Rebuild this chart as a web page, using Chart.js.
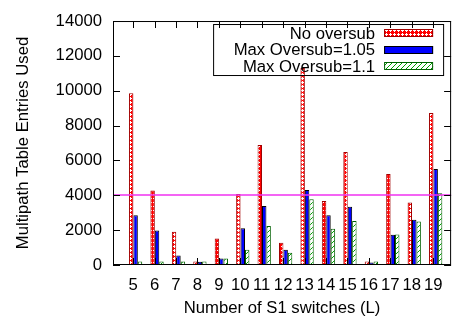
<!DOCTYPE html>
<html>
<head>
<meta charset="utf-8">
<script src="https://cdn.jsdelivr.net/npm/chart.js@4.4.0/dist/chart.umd.min.js"></script>
<style>
  html, body { margin: 0; padding: 0; background: #fff; }
  #wrap { width: 455px; height: 320px; }
</style>
</head>
<body>
<div id="wrap"><canvas id="tableChart" width="455" height="320"></canvas></div>
<script>
// values
const switches = [5, 6, 7, 8, 9, 10, 11, 12, 13, 14, 15, 16, 17, 18, 19];
const noOversub = [9850, 4280, 1910, 200, 1525, 4080, 6890, 1270, 11300, 3670, 6490, 200, 5220, 3580, 8720];
const oversub105 = [2860, 1980, 550, 180, 370, 2110, 3380, 880, 4310, 2850, 3340, 150, 1730, 2590, 5510];
const oversub11 = [200, 200, 200, 200, 370, 880, 2240, 700, 3780, 2075, 2530, 200, 1750, 2500, 4120];
const yTicks = [0, 2000, 4000, 6000, 8000, 10000, 12000, 14000];
const tableLimit = 4000;

const FONT = "'Liberation Sans', Arial, Helvetica, sans-serif";
const FSIZE = 16.7;
const xTickShift = -2.5;   // gnuplot puts the clusters a bit right of the tick

Chart.defaults.font.family = FONT;
Chart.defaults.font.size = FSIZE;
Chart.defaults.color = '#000';

// ---- fill patterns (gnuplot style) ----
function makePattern(size, bg, fg, pixels) {
    const c = document.createElement('canvas');
    c.width = size; c.height = size;
    const g = c.getContext('2d');
    g.fillStyle = bg;
    g.fillRect(0, 0, size, size);
    g.fillStyle = fg;
    pixels.forEach(([px, py]) => g.fillRect(px, py, 1, 1));
    return g.createPattern(c, 'repeat');
}
// red lattice with small white diamonds
const crossPattern = makePattern(4, '#ff0000', '#ffffff', [[2,1],[1,2],[2,2],[3,2],[2,3]]);
// green "/" hatch on white
const hatchPattern = makePattern(5, '#ffffff', '#00a000', [[0,4],[1,3],[2,2],[3,1],[4,0]]);

const toPoints = vals => vals.map((v, i) => ({ x: switches[i], y: v }));

// ---- frame, inner ticks, limit line and key ----
const framePlugin = {
    id: 'frame',
    afterDatasetsDraw(chart) {
        const { ctx, chartArea: a, scales: { x, y } } = chart;
        ctx.save();

        // 4000 entries line
        const ly = Math.round(y.getPixelForValue(tableLimit));
        ctx.strokeStyle = '#f030f0';
        ctx.lineWidth = 1.6;
        ctx.beginPath();
        ctx.moveTo(a.left, ly); ctx.lineTo(a.right, ly);
        ctx.stroke();

        // ticks pointing inward, mirrored
        ctx.lineWidth = 1;
        ctx.strokeStyle = '#000';
        ctx.beginPath();
        yTicks.forEach(v => {
            const py = Math.round(y.getPixelForValue(v)) + 0.5;
            ctx.moveTo(a.left, py); ctx.lineTo(a.left + 7, py);
            ctx.moveTo(a.right - 7, py); ctx.lineTo(a.right, py);
        });
        switches.forEach(v => {
            const px = Math.round(x.getPixelForValue(v) + xTickShift) + 0.5;
            ctx.moveTo(px, a.bottom); ctx.lineTo(px, a.bottom - 7);
            ctx.moveTo(px, a.top); ctx.lineTo(px, a.top + 7);
        });
        ctx.stroke();
        ctx.strokeRect(a.left + 0.5, a.top + 0.5, a.right - a.left - 1, a.bottom - a.top - 1);

        // key box, top right
        const kr = a.right - 8, kt = a.top + 3;
        ctx.strokeRect(kr - 230 + 0.5, kt + 0.5, 230, 51);
        ctx.font = FSIZE + 'px ' + FONT;
        ctx.textAlign = 'right';
        ctx.textBaseline = 'middle';
        chart.data.datasets.forEach((ds, i) => {
            const ry = kt + 9 + i * 16.5;
            ctx.fillStyle = '#000';
            ctx.fillText(ds.label, kr - 68, ry + 1);
            ctx.fillStyle = ds.backgroundColor;
            ctx.fillRect(kr - 59, Math.round(ry - 4), 49, 8);
            ctx.strokeStyle = ds.borderColor;
            ctx.strokeRect(kr - 59 + 0.5, Math.round(ry - 4) + 0.5, 48, 7);
        });
        ctx.restore();
    }
};

new Chart(document.getElementById('tableChart'), {
    type: 'bar',
    data: {
        datasets: [
            { label: 'No oversub', data: toPoints(noOversub), backgroundColor: crossPattern, borderColor: '#a00000', borderWidth: 1 },
            { label: 'Max Oversub=1.05', data: toPoints(oversub105), backgroundColor: '#0000ff', borderColor: '#000000', borderWidth: 1 },
            { label: 'Max Oversub=1.1', data: toPoints(oversub11), backgroundColor: hatchPattern, borderColor: '#006000', borderWidth: 1 }
        ]
    },
    options: {
        responsive: false,
        animation: false,
        layout: { padding: { left: 0, top: 11, right: 1, bottom: 0 } },
        datasets: { bar: { categoryPercentage: 0.62, barPercentage: 1.0 } },
        plugins: { legend: { display: false }, tooltip: { enabled: false } },
        scales: {
            x: {
                type: 'linear',
                offset: false,
                min: 3.945,
                max: 19.72,
                afterBuildTicks: s => { s.ticks = switches.map(v => ({ value: v })); },
                afterFit: s => { s.height = 55; },
                grid: { display: false, drawTicks: false },
                border: { display: false },
                ticks: { autoSkip: false, maxRotation: 0, padding: 10, labelOffset: xTickShift, color: '#000',
                         callback: v => String(v) },
                title: { display: true, text: 'Number of S1 switches (L)', color: '#000', padding: { top: 2, bottom: 2 } }
            },
            y: {
                min: 0,
                max: 14000,
                afterBuildTicks: s => { s.ticks = yTicks.map(v => ({ value: v })); },
                afterFit: s => { s.width = 113; },
                grid: { display: false, drawTicks: false },
                border: { display: false },
                ticks: { padding: 11, color: '#000', callback: v => String(v) },
                title: { display: true, text: 'Multipath Table Entries Used', color: '#000', padding: { top: 13, bottom: 0 } }
            }
        }
    },
    plugins: [framePlugin]
});
</script>
</body>
</html>
